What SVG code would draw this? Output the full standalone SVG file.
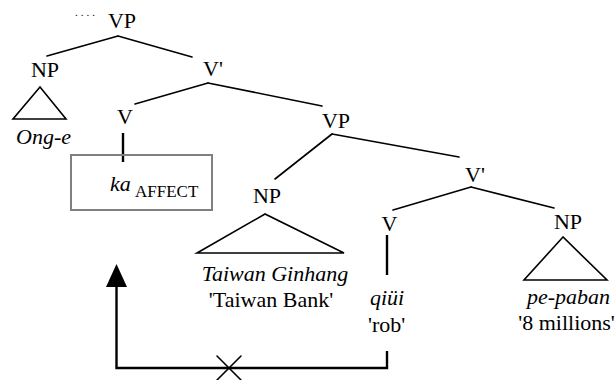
<svg xmlns="http://www.w3.org/2000/svg" width="615" height="380" viewBox="0 0 615 380">
<defs>
<style>
text{font-family:'Liberation Serif','DejaVu Serif',serif;font-size:22px;fill:#000}
.i{font-style:italic}
.m{text-anchor:middle}
.sub{font-size:17px}
.ln{stroke:#000;stroke-width:1.6;fill:none;stroke-linecap:round}
.th{stroke:#000;stroke-width:2.4;fill:none}
.tri{stroke:#000;stroke-width:1.6;fill:none;stroke-linejoin:miter}
</style>
</defs>
<rect width="615" height="380" fill="#fff"/>
<g id="connectors">
<line class="ln" x1="118" y1="36" x2="47" y2="56"/>
<line class="ln" x1="118" y1="36" x2="192" y2="57"/>
<line class="ln" x1="208" y1="83" x2="135" y2="104"/>
<line class="ln" x1="208" y1="83" x2="322" y2="106"/>
<line class="ln" x1="332" y1="134" x2="275" y2="179"/>
<line class="ln" x1="332" y1="134" x2="459" y2="157"/>
<line class="ln" x1="471" y1="187" x2="393" y2="210"/>
<line class="ln" x1="471" y1="187" x2="554" y2="208"/>
<line class="th" x1="123" y1="133" x2="123" y2="162"/>
<line class="th" x1="387" y1="235" x2="387" y2="275"/>
<path class="th" d="M387,351 L387,368 L116.5,368 L116.5,287"/>
<path d="M106,287 L116.5,264 L127,287 Z" fill="#000"/>
<line class="ln" x1="217" y1="356" x2="241" y2="380"/>
<line class="ln" x1="241" y1="356" x2="217" y2="380"/>
</g>
<g id="vp-top" font-family="Liberation Serif, serif">
<text x="75" y="16" style="font-size:11px;letter-spacing:3px">....</text>
<text class="m" x="122" y="28">VP</text>
</g>
<g id="np-left">
<text class="m" x="45" y="77">NP</text>
<path class="tri" d="M40,87 L13,119 L66,119 Z"/>
<text class="i" x="16" y="144">Ong-e</text>
</g>
<g id="vbar-top">
<text x="203" y="76">V'</text>
</g>
<g id="v-left">
<text class="m" x="125" y="124">V</text>
</g>
<g id="ka-box">
<rect x="71" y="155" width="141" height="55" fill="none" stroke="#808080" stroke-width="2"/>
<text class="i" x="110" y="191">ka</text>
<text class="sub" x="135" y="197">AFFECT</text>
</g>
<g id="vp-mid">
<text class="m" x="336" y="128">VP</text>
</g>
<g id="np-mid">
<text class="m" x="267" y="203">NP</text>
<path class="tri" d="M265,214 L197,253 L344,253 Z"/>
<text class="i m" x="275" y="281">Taiwan Ginhang</text>
<text class="m" x="271" y="307">'Taiwan Bank'</text>
</g>
<g id="vbar-mid">
<text x="465" y="182">V'</text>
</g>
<g id="v-right">
<text class="m" x="389.5" y="231">V</text>
<text class="i" x="370" y="305">qiüi</text>
<text x="368" y="332">'rob'</text>
</g>
<g id="np-right">
<text class="m" x="568" y="229">NP</text>
<path class="tri" d="M563,237 L524,280 L607,280 Z"/>
<text class="i m" x="568.5" y="304">pe-paban</text>
<text class="m" x="566.5" y="330">'8 millions'</text>
</g>
</svg>
